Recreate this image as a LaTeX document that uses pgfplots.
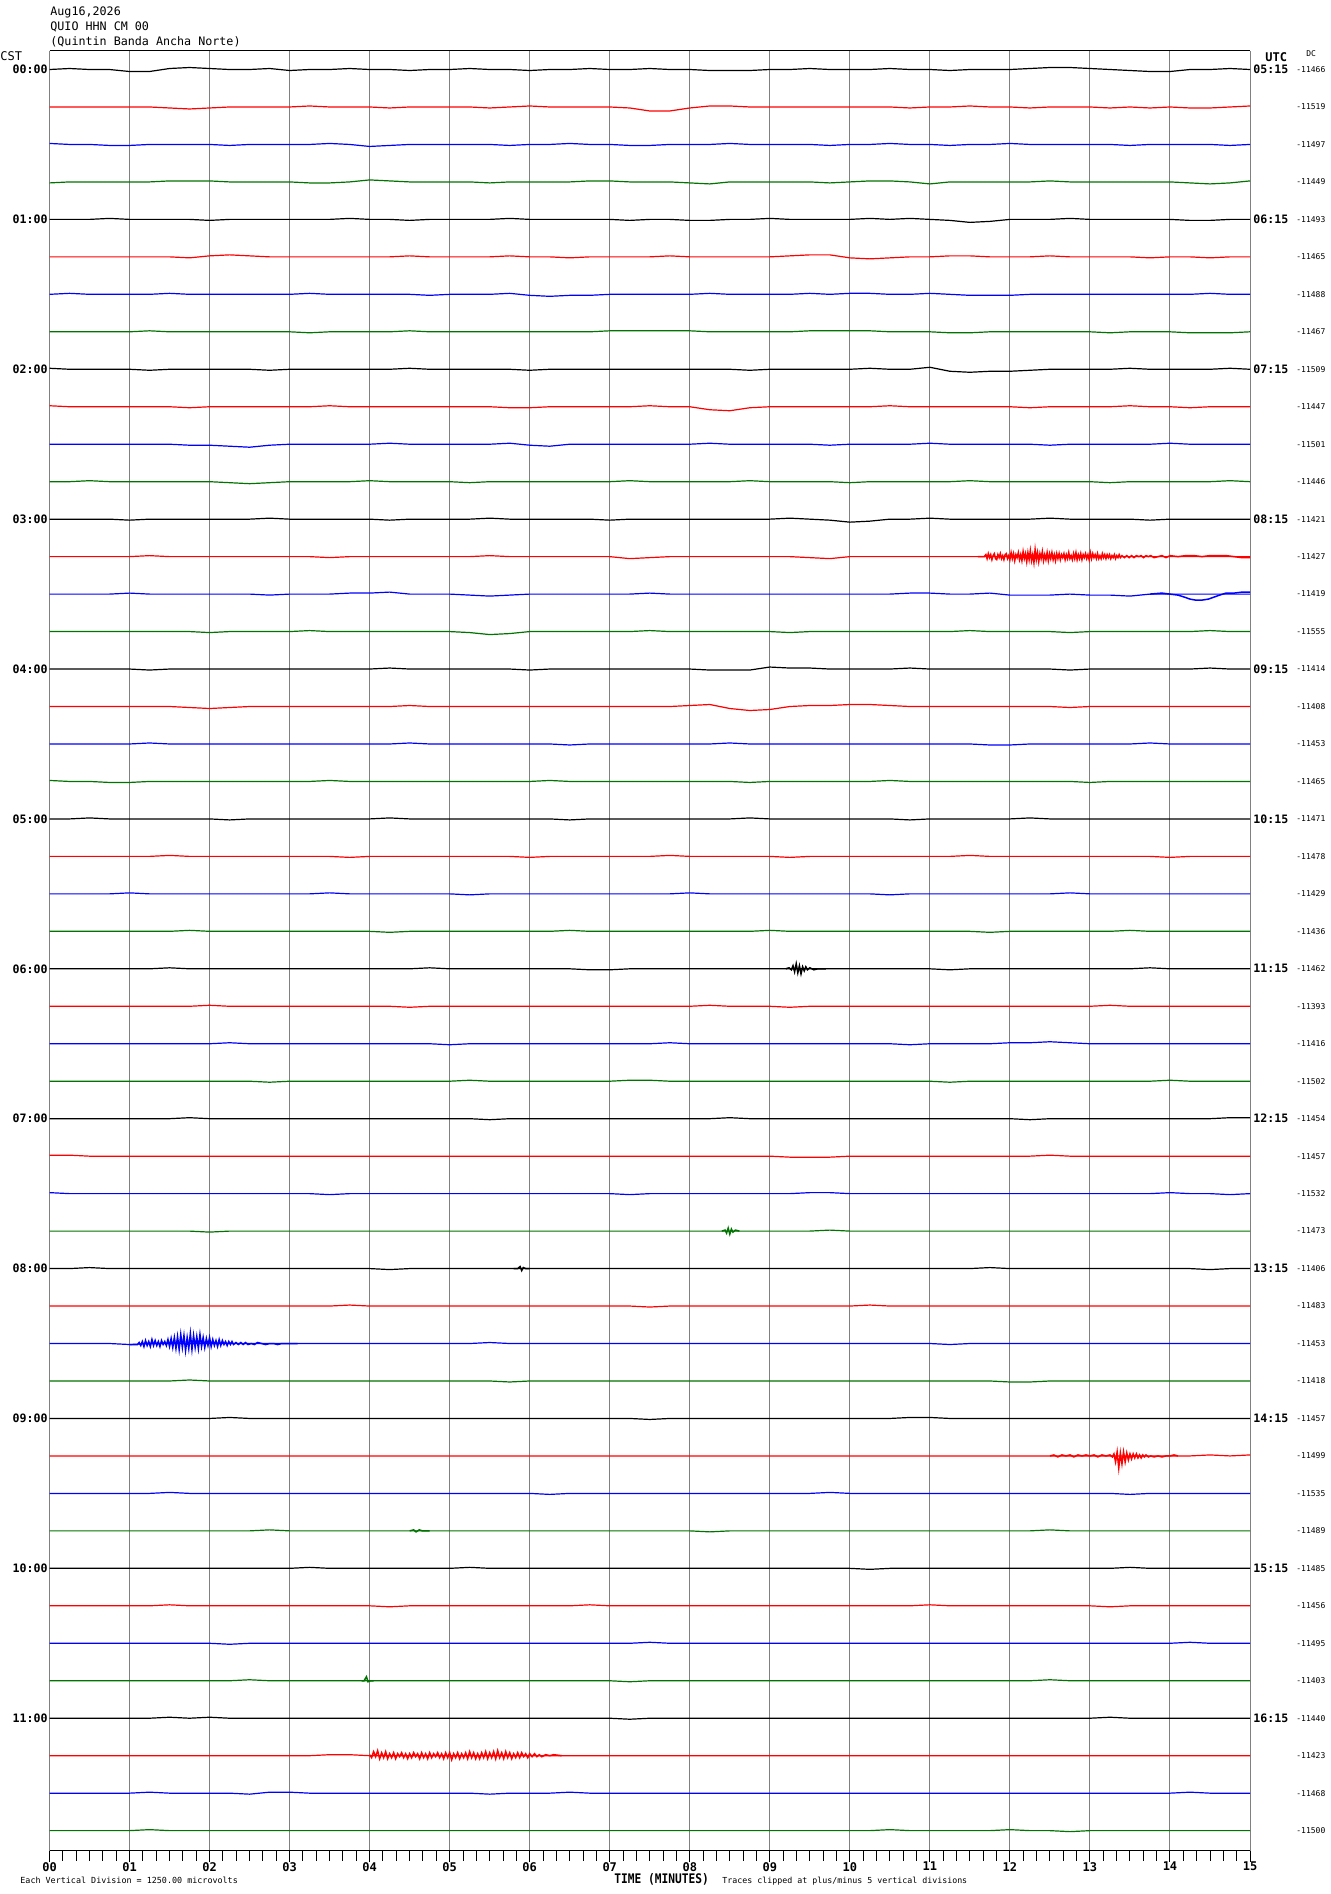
\documentclass[border=0pt]{standalone}
\usepackage{pgfplots}
\pgfplotsset{compat=1.18}
\usepackage{fontspec}
\setmainfont{DejaVu Sans Mono}

\definecolor{hred}{RGB}{255,0,0}
\definecolor{hblue}{RGB}{0,0,255}
\definecolor{hgreen}{RGB}{0,115,0}
\definecolor{hgrid}{RGB}{128,128,128}

% one trace: colour, row index, offsets in pixels every 15 s (0..15 min)
\newcommand\trace[3]{%
  \gdef\pts{}%
  \foreach \v [count=\k from 0] in {#3}{%
    \pgfmathsetmacro\xx{\k*0.25}%
    \pgfmathsetmacro\yy{-#2+(\v)/37.47}%
    \xdef\pts{\pts(\xx,\yy)}}%
  \edef\doplot{\noexpand\addplot[#1,line width=0.6pt] coordinates {\pts};}%
  \doplot}
% denser piece of a trace: colour, row index, minute/pixel pairs
\newcommand\ev[3]{%
  \gdef\pts{}%
  \foreach \a/\b in {#3}{%
    \pgfmathsetmacro\yy{-#2+(\b)/37.47}%
    \xdef\pts{\pts(\a,\yy)}}%
  \edef\doplot{\noexpand\addplot[#1,line width=0.75pt] coordinates {\pts};}%
  \doplot}

\begin{document}
\begin{tikzpicture}
\useasboundingbox (0,0) rectangle (665pt,-947pt);
\begin{axis}[
  at={(24.75pt,-25.35pt)}, anchor=north west,
  scale only axis, width=600.25pt, height=900pt,
  xmin=0, xmax=15, ymin=-47.536, ymax=0.502,
  axis y line=none, axis x line=bottom,
  x axis line style={-, black, line width=0.6pt},
  xtick={0,1,...,15},
  xticklabels={00,01,02,03,04,05,06,07,08,09,10,11,12,13,14,15},
  minor x tick num=5,
  xtick align=outside,
  major tick length=5.5pt, minor tick length=5pt,
  every tick/.style={black, line width=0.5pt},
  xmajorgrids, major grid style={hgrid, line width=0.5pt},
  xticklabel style={font=\bfseries\fontsize{6}{6.5}\selectfont, inner sep=0pt},
  clip=true,
]
\trace{black}{0}{0,1,0,0,-2,-2,1,2,1,0,0,1,-1,0,0,1,0,0,-1,0,0,1,0,0,-1,0,0,1,0,0,1,0,0,-1,-1,-1,0,0,1,0,0,0,1,0,0,-1,0,0,0,1,2,2,1,0,-1,-2,-2,0,0,1,0}
\trace{hred}{1}{0,0,0,0,0,0,-1,-2,-1,0,0,0,0,1,0,0,0,-1,0,0,0,0,-1,0,1,0,0,0,0,-1,-4,-4,-1,1,1,0,0,0,0,0,0,0,0,-1,0,0,1,0,0,-1,0,0,0,-1,0,-1,0,-1,-1,0,1}
\trace{hblue}{2}{1,0,0,-1,-1,0,0,0,0,-1,0,0,0,0,1,0,-2,-1,0,0,0,0,0,-1,0,0,1,0,0,-1,-1,0,0,0,1,0,0,0,0,-1,0,0,1,0,0,-1,0,0,1,0,0,0,0,0,-1,0,0,0,0,-1,0}
\trace{hgreen}{3}{-1,0,0,0,0,0,1,1,1,0,0,0,0,-1,-1,0,2,1,0,0,0,0,-1,0,0,0,0,1,1,0,0,0,-1,-2,0,0,0,0,0,-1,0,1,1,0,-2,0,0,0,0,0,1,0,0,0,0,0,0,-1,-2,-1,1}
\trace{black}{4}{0,0,0,1,0,0,0,0,-1,0,0,0,0,0,0,1,0,0,-1,0,0,0,0,1,0,0,0,0,0,-1,0,0,-1,-1,0,0,1,0,0,0,0,1,0,1,0,-1,-3,-2,0,0,0,1,0,0,0,0,0,-1,-1,0,0}
\trace{hred}{5}{0,0,0,0,0,0,0,-1,1,2,1,0,0,0,0,0,0,0,1,0,0,0,0,1,0,0,-1,0,0,0,0,1,0,0,0,0,0,1,2,2,-1,-2,-1,0,0,1,1,0,0,0,1,0,0,0,0,-1,0,0,-1,0,0}
\trace{hblue}{6}{0,1,0,0,0,0,1,0,0,0,0,0,0,1,0,0,0,0,0,-1,0,0,0,1,-1,-2,-1,-1,0,0,0,0,0,1,0,0,0,0,1,0,1,1,0,0,1,0,-1,-1,-1,0,0,0,0,0,0,0,0,0,1,0,0}
\trace{hgreen}{7}{0,0,0,0,0,1,0,0,0,0,0,0,0,-1,0,0,0,0,1,0,0,0,0,0,0,0,0,0,1,1,1,1,1,0,0,0,0,0,1,1,1,1,0,0,0,-1,-1,0,0,0,0,0,0,-1,0,0,0,-1,-1,-1,0}
\trace{black}{8}{1,0,0,0,0,-1,0,0,0,0,0,-1,0,0,0,0,0,0,1,0,0,0,0,0,-1,0,0,0,0,0,0,0,0,0,0,-1,0,0,0,0,0,1,0,0,2,-2,-3,-2,-2,-1,0,0,0,0,1,0,0,0,0,1,0}
\trace{hred}{9}{1,0,0,0,0,0,0,-1,0,0,0,0,0,0,1,0,0,0,0,0,0,0,0,-1,-1,0,0,0,0,0,1,0,0,-3,-4,-1,0,0,0,0,0,0,1,0,0,0,0,0,0,-1,0,0,0,0,1,0,0,-1,0,0,0}
\trace{hblue}{10}{0,0,0,0,0,0,0,-1,-1,-2,-3,-1,0,0,0,0,0,1,0,0,0,0,0,1,-1,-2,0,0,0,0,0,0,0,1,0,0,0,0,0,-1,0,0,0,0,1,0,0,0,0,0,-1,0,0,0,0,0,1,0,0,0,0}
\trace{hgreen}{11}{0,0,1,0,0,0,0,0,0,-1,-2,-1,0,0,0,0,1,0,0,0,0,-1,0,0,0,0,0,0,0,1,0,0,0,0,0,1,0,0,0,0,-1,0,0,0,0,0,1,0,0,0,0,0,0,-1,0,0,0,0,0,1,0}
\trace{black}{12}{0,0,0,0,-1,0,0,0,0,0,0,1,0,0,0,0,0,-1,0,0,0,0,1,0,0,0,0,0,-1,0,0,0,0,0,0,0,0,1,0,-1,-3,-2,0,0,1,0,0,0,0,0,1,0,0,0,0,-1,0,0,0,0,0}
\trace{hred}{13}{0,0,0,0,0,1,0,0,0,0,0,0,0,0,-1,0,0,0,0,0,0,0,1,0,0,0,0,0,0,-2,-1,0,0,0,0,0,0,0,-1,-2,0,0,0,0,0,0,0,0,0,0,0,0,0,0,0,0,0,0,0,0,0}
\ev{hred}{13}{11.60/0,11.68/0,11.700/2,11.715/-2,11.730/3,11.745/-1,11.760/2,11.775/-3,11.790/1,11.805/3,11.820/-2,11.835/-3,11.850/2,11.865/-1,11.880/3,11.895/-2,11.910/1,11.925/-3,11.940/2,11.955/3,11.970/-2,11.985/1,12.000/-3,12.015/4,12.030/-2,12.045/3,12.060/-4,12.075/2,12.090/-1,12.105/4,12.120/-3,12.135/2,12.150/-4,12.165/5,12.180/-2,12.195/3,12.210/-5,12.225/4,12.240/-3,12.255/6,12.270/-4,12.285/2,12.300/-6,12.315/7,12.330/-3,12.345/4,12.360/-5,12.375/3,12.390/-2,12.405/5,12.420/-4,12.435/2,12.450/-3,12.465/4,12.480/-4,12.495/3,12.510/-2,12.525/4,12.540/-3,12.555/2,12.570/-4,12.585/3,12.600/-2,12.615/3,12.630/-3,12.645/2,12.660/-1,12.675/3,12.690/-3,12.705/2,12.720/-2,12.735/4,12.750/-2,12.765/1,12.780/-3,12.795/3,12.810/-2,12.825/4,12.840/-3,12.855/2,12.870/-2,12.885/3,12.900/-3,12.915/2,12.930/-1,12.945/3,12.960/-2,12.975/2,12.990/-3,13.005/4,13.020/-2,13.035/3,13.050/-1,13.065/2,13.080/-2,13.095/3,13.110/-2,13.125/1,13.140/-2,13.155/3,13.170/-1,13.185/2,13.200/-2,13.215/2,13.230/-1,13.245/2,13.260/-2,13.275/1,13.290/-1,13.305/2,13.320/-2,13.335/1,13.350/-1,13.365/2,13.380/-1,13.40/1,13.43/-1,13.46/1,13.49/-1,13.52/1,13.55/-1,13.58/1,13.61/0,13.64/1,13.67/-1,13.70/1,13.73/0,13.76/1,13.80/-1,13.85/0,13.90/1,13.95/-1,14.0/1,14.1/0,14.2/1,14.3/1,14.4/0,14.5/1,14.6/1,14.7/1,14.8/0,14.9/-1,15.0/-1}
\trace{hblue}{14}{0,0,0,0,1,0,0,0,0,0,0,-1,0,0,0,1,1,2,0,0,0,-1,-2,-1,0,0,0,0,0,0,1,0,0,0,0,0,0,0,0,0,0,0,0,1,1,0,0,1,-1,-1,-1,0,-1,-1,-2,0,0,0,0,0,0}
\ev{hblue}{14}{13.75/0,13.9/1,14.0/0,14.1/-1,14.18/-3,14.25/-5,14.32/-6,14.4/-6,14.48/-5,14.55/-3,14.62/-1,14.7/1,14.8/1,14.9/2,15.0/2}
\trace{hgreen}{15}{0,0,0,0,0,0,0,0,-1,0,0,0,0,1,0,0,0,0,0,0,0,-1,-3,-2,0,0,0,0,0,0,1,0,0,0,0,0,0,-1,0,0,0,0,0,0,0,0,1,0,0,0,0,-1,0,0,0,0,0,0,1,0,0}
\trace{black}{16}{0,0,0,0,0,-1,0,0,0,0,0,0,0,0,0,0,0,1,0,0,0,0,0,0,-1,0,0,0,0,0,0,0,0,-1,-1,-1,2,1,1,0,0,0,0,1,0,0,0,0,0,0,0,-1,0,0,0,0,0,0,1,0,0}
\trace{hred}{17}{0,0,0,0,0,0,0,-1,-2,-1,0,0,0,0,0,0,0,0,1,0,0,0,0,0,0,0,0,0,0,0,0,0,1,2,-2,-4,-3,0,1,1,2,2,1,0,0,0,0,0,0,0,0,-1,0,0,0,0,0,0,0,0,0}
\trace{hblue}{18}{0,0,0,0,0,1,0,0,0,0,0,0,0,0,0,0,0,0,1,0,0,0,0,0,0,0,-1,0,0,0,0,0,0,0,1,0,0,0,0,0,0,0,0,0,0,0,0,-1,-1,0,0,0,0,0,0,1,0,0,0,0,0}
\trace{hgreen}{19}{1,0,0,-1,-1,0,0,0,0,0,0,0,0,0,1,0,0,0,0,0,0,0,0,0,0,1,0,0,0,0,0,0,0,0,0,-1,0,0,0,0,0,0,1,0,0,0,0,0,0,0,0,0,-1,0,0,0,0,0,0,0,0}
\trace{black}{20}{0,0,1,0,0,0,0,0,0,-1,0,0,0,0,0,0,0,1,0,0,0,0,0,0,0,0,-1,0,0,0,0,0,0,0,0,1,0,0,0,0,0,0,0,-1,0,0,0,0,0,1,0,0,0,0,0,0,0,0,0,0,0}
\trace{hred}{21}{0,0,0,0,0,0,1,0,0,0,0,0,0,0,0,-1,0,0,0,0,0,0,0,0,-1,0,0,0,0,0,0,1,0,0,0,0,0,-1,0,0,0,0,0,0,0,0,1,0,0,0,0,0,0,0,0,0,-1,0,0,0,0}
\trace{hblue}{22}{0,0,0,0,1,0,0,0,0,0,0,0,0,0,1,0,0,0,0,0,0,-1,0,0,0,0,0,0,0,0,0,0,1,0,0,0,0,0,0,0,0,0,-1,0,0,0,0,0,0,0,0,1,0,0,0,0,0,0,0,0,0}
\trace{hgreen}{23}{0,0,0,0,0,0,0,1,0,0,0,0,0,0,0,0,0,-1,0,0,0,0,0,0,0,0,1,0,0,0,0,0,0,0,0,0,1,0,0,0,0,0,0,0,0,0,0,-1,0,0,0,0,0,0,1,0,0,0,0,0,0}
\trace{black}{24}{0,0,0,0,0,0,1,0,0,0,0,0,0,0,0,0,0,0,0,1,0,0,0,0,0,0,0,-1,-1,0,0,0,0,0,0,0,0,0,0,0,0,0,0,0,0,-1,0,0,0,0,0,0,0,0,0,1,0,0,0,0,0}
\ev{black}{24}{9.20/0,9.24/1,9.27/-1,9.29/3,9.31/-3,9.33/5,9.35/-4,9.37/3,9.39/-5,9.41/2,9.43/-2,9.45/2,9.47/-1,9.50/1,9.55/-1,9.60/0,9.70/0}
\trace{hred}{25}{0,0,0,0,0,0,0,0,1,0,0,0,0,0,0,0,0,0,-1,0,0,0,0,0,0,0,0,0,0,0,0,0,0,1,0,0,0,-1,0,0,0,0,0,0,0,0,0,0,0,0,0,0,0,1,0,0,0,0,0,0,0}
\trace{hblue}{26}{0,0,0,0,0,0,0,0,0,1,0,0,0,0,0,0,0,0,0,0,-1,0,0,0,0,0,0,0,0,0,0,1,0,0,0,0,0,0,0,0,0,0,0,-1,0,0,0,0,1,1,2,1,0,0,0,0,0,0,0,0,0}
\trace{hgreen}{27}{0,0,0,0,0,0,0,0,0,0,0,-1,0,0,0,0,0,0,0,0,0,1,0,0,0,0,0,0,0,1,1,0,0,0,0,0,0,0,0,0,0,0,0,0,0,-1,0,0,0,0,0,0,0,0,0,0,1,0,0,0,0}
\trace{black}{28}{0,0,0,0,0,0,0,1,0,0,0,0,0,0,0,0,0,0,0,0,0,0,-1,0,0,0,0,0,0,0,0,0,0,0,1,0,0,0,0,0,0,0,0,0,0,0,0,0,0,-1,0,0,0,0,0,0,0,0,0,1,1}
\trace{hred}{29}{1,1,0,0,0,0,0,0,0,0,0,0,0,0,0,0,0,0,0,0,0,0,0,0,0,0,0,0,0,0,0,0,0,0,0,0,0,-1,-1,-1,0,0,0,0,0,0,0,0,0,0,1,0,0,0,0,0,0,0,0,0,0}
\trace{hblue}{30}{1,0,0,0,0,0,0,0,0,0,0,0,0,0,-1,0,0,0,0,0,0,0,0,0,0,0,0,0,0,-1,0,0,0,0,0,0,0,0,1,1,0,0,0,0,0,0,0,0,0,0,0,0,0,0,0,0,1,0,0,-1,0}
\trace{hgreen}{31}{0,0,0,0,0,0,0,0,-1,0,0,0,0,0,0,0,0,0,0,0,0,0,0,0,0,0,0,0,0,0,0,0,0,0,0,0,0,0,0,1,0,0,0,0,0,0,0,0,0,0,0,0,0,0,0,0,0,0,0,0,0}
\ev{hgreen}{31}{8.40/0,8.44/1,8.46/-2,8.48/3,8.50/-3,8.52/2,8.54/-1,8.57/1,8.62/0}
\trace{black}{32}{0,0,1,0,0,0,0,0,0,0,0,0,0,0,0,0,0,-1,0,0,0,0,0,0,0,0,0,0,0,0,0,0,0,0,0,0,0,0,0,0,0,0,0,0,0,0,0,1,0,0,0,0,0,0,0,0,0,0,-1,0,0}
\ev{black}{32}{5.80/0,5.85/0,5.88/2,5.90/-2,5.92/1,5.95/0,6.0/0}
\trace{hred}{33}{0,0,0,0,0,0,0,0,0,0,0,0,0,0,0,1,0,0,0,0,0,0,0,0,0,0,0,0,0,0,-1,0,0,0,0,0,0,0,0,0,0,1,0,0,0,0,0,0,0,0,0,0,0,0,0,0,0,0,0,0,0}
\trace{hblue}{34}{0,0,0,0,-1,0,0,0,0,0,0,0,0,0,0,0,0,0,0,0,0,0,1,0,0,0,0,0,0,0,0,0,0,0,0,0,0,0,0,0,0,0,0,0,0,-1,0,0,0,0,0,0,0,0,0,0,0,0,0,0,0}
\ev{hblue}{34}{1.00/-1,1.10/-1,1.12/1,1.14/-2,1.16/2,1.18/-3,1.20/3,1.22/-2,1.24/2,1.26/-3,1.28/4,1.30/-2,1.32/3,1.34/-2,1.36/2,1.38/-3,1.40/3,1.42/-1,1.44/2,1.46/-2,1.48/4,1.50/-3,1.52/5,1.54/-4,1.56/6,1.58/-5,1.60/7,1.62/-6,1.64/9,1.66/-4,1.68/8,1.70/-7,1.72/6,1.74/-5,1.76/10,1.78/-6,1.80/8,1.82/-4,1.84/7,1.86/-5,1.88/9,1.90/-3,1.92/6,1.94/-4,1.96/5,1.98/-2,2.00/6,2.02/-3,2.04/4,2.06/-2,2.08/3,2.10/-3,2.12/4,2.14/-2,2.16/3,2.18/-1,2.20/2,2.22/-2,2.24/2,2.26/-1,2.28/2,2.30/-1,2.33/1,2.36/-1,2.39/1,2.42/-1,2.45/1,2.48/-1,2.52/0,2.56/-1,2.60/1,2.65/0,2.70/-1,2.75/0,2.80/0,2.85/-1,2.90/0,3.00/0,3.10/0}
\trace{hgreen}{35}{0,0,0,0,0,0,0,1,0,0,0,0,0,0,0,0,0,0,0,0,0,0,0,-1,0,0,0,0,0,0,0,0,0,0,0,0,0,0,0,0,0,0,0,0,0,0,0,0,-1,-1,0,0,0,0,0,0,0,0,0,0,0}
\trace{black}{36}{0,0,0,0,0,0,0,0,0,1,0,0,0,0,0,0,0,0,0,0,0,0,0,0,0,0,0,0,0,0,-1,0,0,0,0,0,0,0,0,0,0,0,0,1,1,0,0,0,0,0,0,0,0,0,0,0,0,0,0,0,0}
\trace{hred}{37}{0,0,0,0,0,0,0,0,0,0,0,0,0,0,0,0,0,0,0,0,0,0,0,0,0,0,0,0,0,0,0,0,0,0,0,0,0,0,0,0,0,0,0,0,0,0,0,0,0,0,0,0,0,0,0,0,0,0,1,0,1}
\ev{hred}{37}{12.50/0,12.55/1,12.60/-1,12.65/1,12.70/0,12.75/1,12.80/-1,12.85/1,12.90/0,12.95/1,13.00/0,13.05/1,13.10/-1,13.15/1,13.20/0,13.25/1,13.28/-1,13.30/2,13.32/-6,13.34/4,13.36/-12,13.38/3,13.40/-8,13.42/4,13.44/-6,13.46/3,13.48/-4,13.50/2,13.52/-3,13.54/2,13.56/-2,13.58/2,13.60/-2,13.62/1,13.64/-2,13.66/1,13.68/-1,13.70/1,13.73/-1,13.76/0,13.80/-1,13.85/0,13.90/-1,13.95/0,14.00/0,14.05/1,14.10/0}
\trace{hblue}{38}{0,0,0,0,0,0,1,0,0,0,0,0,0,0,0,0,0,0,0,0,0,0,0,0,0,-1,0,0,0,0,0,0,0,0,0,0,0,0,0,1,0,0,0,0,0,0,0,0,0,0,0,0,0,0,-1,0,0,0,0,0,0}
\trace{hgreen}{39}{0,0,0,0,0,0,0,0,0,0,0,1,0,0,0,0,0,0,0,0,0,0,0,0,0,0,0,0,0,0,0,0,0,-1,0,0,0,0,0,0,0,0,0,0,0,0,0,0,0,0,1,0,0,0,0,0,0,0,0,0,0}
\ev{hgreen}{39}{4.50/0,4.55/1,4.58/-1,4.62/1,4.66/0,4.75/0}
\trace{black}{40}{0,0,0,0,0,0,0,0,0,0,0,0,0,1,0,0,0,0,0,0,0,1,0,0,0,0,0,0,0,0,0,0,0,0,0,0,0,0,0,0,0,-1,0,0,0,0,0,0,0,0,0,0,0,0,1,0,0,0,0,0,0}
\trace{hred}{41}{0,0,0,0,0,0,1,0,0,0,0,0,0,0,0,0,0,-1,0,0,0,0,0,0,0,0,0,1,0,0,0,0,0,0,0,0,0,0,0,0,0,0,0,0,1,0,0,0,0,0,0,0,0,-1,0,0,0,0,0,0,0}
\trace{hblue}{42}{0,0,0,0,0,0,0,0,0,-1,0,0,0,0,0,0,0,0,0,0,0,0,0,0,0,0,0,0,0,0,1,0,0,0,0,0,0,0,0,0,0,0,0,0,0,0,0,0,0,0,0,0,0,0,0,0,0,1,0,0,0}
\trace{hgreen}{43}{0,0,0,0,0,0,0,0,0,0,1,0,0,0,0,0,0,0,0,0,0,0,0,0,0,0,0,0,0,-1,0,0,0,0,0,0,0,0,0,0,0,0,0,0,0,0,0,0,0,0,1,0,0,0,0,0,0,0,0,0,0}
\ev{hgreen}{43}{3.90/0,3.93/0,3.96/4,3.98/-1,4.01/0,4.05/0}
\trace{black}{44}{0,0,0,0,0,0,1,0,1,0,0,0,0,0,0,0,0,0,0,0,0,0,0,0,0,0,0,0,0,-1,0,0,0,0,0,0,0,0,0,0,0,0,0,0,0,0,0,0,0,0,0,0,0,1,0,0,0,0,0,0,0}
\trace{hred}{45}{0,0,0,0,0,0,0,0,0,0,0,0,0,0,1,1,0,0,0,0,0,0,0,0,0,0,0,0,0,0,0,0,0,0,0,0,0,0,0,0,0,0,0,0,0,0,0,0,0,0,0,0,0,0,0,0,0,0,0,0,0}
\ev{hred}{45}{4.000/1,4.025/-2,4.05/4,4.075/-1,4.10/5,4.125/-3,4.15/3,4.175/-2,4.20/4,4.225/-3,4.25/2,4.275/-2,4.30/3,4.325/-3,4.35/2,4.375/-1,4.40/3,4.425/-2,4.45/2,4.475/-3,4.50/2,4.525/-2,4.55/3,4.575/-1,4.60/2,4.625/-3,4.65/3,4.675/-2,4.70/2,4.725/-3,4.75/3,4.775/-2,4.80/2,4.825/-1,4.85/3,4.875/-2,4.90/2,4.925/-3,4.95/3,4.975/-2,5.00/3,5.025/-4,5.05/2,5.075/-2,5.10/3,5.125/-3,5.15/2,5.175/-2,5.20/3,5.225/-3,5.25/4,5.275/-2,5.30/3,5.325/-3,5.35/2,5.375/-3,5.40/3,5.425/-2,5.45/4,5.475/-3,5.50/3,5.525/-2,5.55/4,5.575/-3,5.60/5,5.625/-2,5.65/3,5.675/-3,5.70/4,5.725/-2,5.75/3,5.775/-3,5.80/2,5.825/-2,5.85/3,5.875/-2,5.90/3,5.925/-1,5.95/2,5.975/-2,6.00/2,6.03/-1,6.06/2,6.09/-1,6.12/1,6.15/-1,6.20/1,6.25/0,6.30/1,6.40/0}
\trace{hblue}{46}{0,0,0,0,0,1,0,0,0,0,-1,1,1,0,0,0,0,0,0,0,0,0,-1,0,0,0,1,0,0,0,0,0,0,0,0,0,0,0,0,0,0,0,0,0,0,0,0,0,0,0,0,0,0,0,0,0,0,1,0,0,0}
\trace{hgreen}{47}{0,0,0,0,0,1,0,0,0,0,0,0,0,0,0,0,0,0,0,0,0,0,0,0,0,0,0,0,0,0,0,0,0,0,0,0,0,0,0,0,0,0,1,0,0,0,0,0,1,0,0,-1,0,0,0,0,0,0,0,0,0}
\end{axis}

% top border
\draw[black, line width=0.6pt] (24.75pt,-25.35pt) -- (625pt,-25.35pt);

% header
\node[anchor=base west, inner sep=0pt, font=\fontsize{5.85}{7}\selectfont] at (25pt,-8pt) {Aug16,2026};
\node[anchor=base west, inner sep=0pt, font=\fontsize{5.85}{7}\selectfont] at (25pt,-15.4pt) {QUIO HHN CM 00};
\node[anchor=base west, inner sep=0pt, font=\fontsize{5.85}{7}\selectfont] at (25pt,-22.9pt) {(Quintin Banda Ancha Norte)};
\node[anchor=base west, inner sep=0pt, font=\fontsize{6}{7}\selectfont] at (0pt,-30.5pt) {CST};
\node[anchor=base west, inner sep=0pt, font=\bfseries\fontsize{6}{7}\selectfont] at (632.5pt,-31pt) {UTC};
\node[anchor=base west, inner sep=0pt, font=\fontsize{4}{5}\selectfont] at (653pt,-28.5pt) {DC};

% hour labels
\foreach \h [count=\j from 0] in {00,01,02,03,04,05,06,07,08,09,10,11}{
  \pgfmathsetmacro\yy{-(69.5+37.47*4*\j)*0.5}
  \node[anchor=east, inner sep=0pt, font=\bfseries\fontsize{5.8}{6}\selectfont] at (24pt,\yy pt) {\h:00};
}
\foreach \h [count=\j from 0] in {05,06,07,08,09,10,11,12,13,14,15,16}{
  \pgfmathsetmacro\yy{-(69.5+37.47*4*\j)*0.5}
  \node[anchor=west, inner sep=0pt, font=\bfseries\fontsize{5.8}{6}\selectfont] at (626.5pt,\yy pt) {\h:15};
}
% DC offsets
\foreach \v [count=\i from 0] in {-11466,-11519,-11497,-11449,-11493,-11465,-11488,-11467,-11509,-11447,-11501,-11446,-11421,-11427,-11419,-11555,-11414,-11408,-11453,-11465,-11471,-11478,-11429,-11436,-11462,-11393,-11416,-11502,-11454,-11457,-11532,-11473,-11406,-11483,-11453,-11418,-11457,-11499,-11535,-11489,-11485,-11456,-11495,-11403,-11440,-11423,-11468,-11500}{
  \pgfmathsetmacro\yy{-(69.5+37.47*\i)*0.5}
  \node[anchor=west, inner sep=0pt, font=\fontsize{4}{5}\selectfont] at (648pt,\yy pt) {\v};
}

% footer
\node[anchor=base west, inner sep=0pt, font=\fontsize{4.2}{5}\selectfont] at (10pt,-941.5pt) {Each Vertical Division = 1250.00 microvolts};
\node[anchor=base west, inner sep=0pt] at (307pt,-941.5pt) {\scalebox{0.85}[1]{\bfseries\fontsize{6.6}{7}\selectfont TIME (MINUTES)}};
\node[anchor=base west, inner sep=0pt, font=\fontsize{4.15}{5}\selectfont] at (361pt,-941.5pt) {Traces clipped at plus/minus 5 vertical divisions};
\end{tikzpicture}
\end{document}
